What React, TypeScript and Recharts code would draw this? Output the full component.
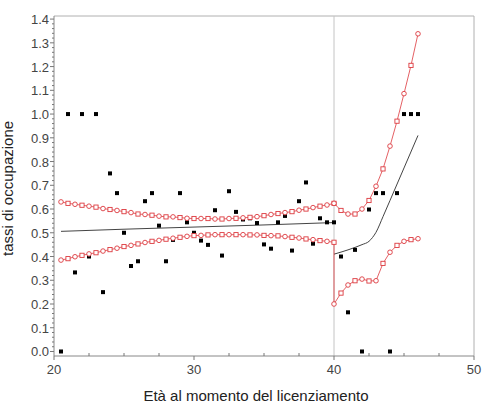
import React from 'react';
import {
  ComposedChart,
  Line,
  Scatter,
  XAxis,
  YAxis,
  ReferenceLine,
} from 'recharts';

// observed rates (età, tasso)
const obsAge = [
  20.5, 21, 21.5, 22, 22.5, 23, 23.5, 24, 24.5, 25, 25.5, 26, 26.5, 27, 27.5, 28,
  28.5, 29, 29.5, 30, 30.5, 31, 31.5, 32, 32.5, 33, 33.5, 34, 34.5, 35, 35.5, 36,
  36.5, 37, 37.5, 38, 38.5, 39, 39.5, 40, 40.5, 41, 41.5, 42, 42.5, 43, 43.5, 44,
  44.5, 45, 45.5, 46,
];
const obsRate = [
  0.0, 1.0, 0.333, 1.0, 0.4, 1.0, 0.25, 0.75, 0.667, 0.5, 0.36, 0.38, 0.633, 0.667, 0.53, 0.38,
  0.47, 0.667, 0.544, 0.5, 0.467, 0.449, 0.595, 0.404, 0.675, 0.588, 0.556, 0.561, 0.541, 0.451, 0.433, 0.544,
  0.571, 0.425, 0.633, 0.712, 0.454, 0.561, 0.544, 0.544, 0.4, 0.165, 0.428, 0.0, 0.598, 0.667, 0.667, 0.0,
  0.667, 1.0, 1.0, 1.0,
];

// fitted line, left and right of the cutoff
const fitLeftAge = [20.5, 25, 30, 35, 40];
const fitLeftVal = [0.506, 0.515, 0.524, 0.533, 0.543];
const fitRightAge = [40, 41, 42, 42.5, 42.75, 43, 43.5, 44, 45, 46];
const fitRightVal = [0.41, 0.428, 0.45, 0.464, 0.48, 0.502, 0.568, 0.636, 0.773, 0.91];

// confidence bands
const bandAge = [
  20.5, 21, 21.5, 22, 22.5, 23, 23.5, 24, 24.5, 25, 25.5, 26, 26.5, 27, 27.5, 28,
  28.5, 29, 29.5, 30, 30.5, 31, 31.5, 32, 32.5, 33, 33.5, 34, 34.5, 35, 35.5, 36,
  36.5, 37, 37.5, 38, 38.5, 39, 39.5, 40,
  40, 40.5, 41, 41.5, 42, 42.5, 43, 43.5, 44, 44.5, 45, 45.5, 46,
];
const upperBand = [
  0.63, 0.624, 0.62, 0.616, 0.612, 0.608, 0.602, 0.598, 0.594, 0.589, 0.585, 0.579, 0.577, 0.574, 0.57, 0.567,
  0.567, 0.564, 0.561, 0.56, 0.56, 0.56, 0.558, 0.558, 0.56, 0.561, 0.563, 0.565, 0.568, 0.572, 0.577, 0.581,
  0.585, 0.589, 0.595, 0.6, 0.606, 0.612, 0.617, 0.624,
  0.624, 0.594, 0.579, 0.579, 0.6, 0.636, 0.696, 0.769, 0.865, 0.97, 1.086, 1.205, 1.338,
];
const lowerBand = [
  0.385, 0.391, 0.399, 0.405, 0.411, 0.416, 0.423, 0.429, 0.435, 0.442, 0.447, 0.453, 0.459, 0.464, 0.468, 0.473,
  0.477, 0.481, 0.485, 0.488, 0.489, 0.491, 0.492, 0.492, 0.492, 0.492, 0.492, 0.491, 0.491, 0.489, 0.488, 0.487,
  0.484, 0.481, 0.478, 0.474, 0.471, 0.467, 0.464, 0.46,
  0.2, 0.246, 0.28, 0.298, 0.305, 0.297, 0.298, 0.371, 0.418, 0.447, 0.464, 0.471, 0.475,
];

const xTicks = [20, 22.5, 25, 27.5, 30, 32.5, 35, 37.5, 40, 42.5, 45, 47.5, 50];
const yTicks = Array.from({ length: 71 }, (_, i) => i / 50);
const cutoff = 40;
const yMin = -0.019;
const yMax = 1.413;

const zip = (xs: number[], ys: number[]) => xs.map((x, i) => ({ x, y: ys[i] }));
const obsData = zip(obsAge, obsRate);
const fitLeft = zip(fitLeftAge, fitLeftVal);
const fitRight = zip(fitRightAge, fitRightVal);
const upperData = zip(bandAge, upperBand);
const lowerData = zip(bandAge, lowerBand);

const RED = '#dd3a3f';
const font = '"Liberation Sans", Arial, sans-serif';

const XTick = ({ x, y, payload }: any) => {
  const major = payload.value % 10 === 0;
  return (
    <g>
      <line x1={x} x2={x} y1={y} y2={major ? y + 4 : y - 3} stroke="#777" />
      {major && (
        <text x={x} y={y + 18} textAnchor="middle" fontSize={13} fill="#444" fontFamily={font}>
          {payload.value}
        </text>
      )}
    </g>
  );
};

const YTick = ({ x, y, payload }: any) => {
  const v = payload.value;
  const major = Math.abs(v * 10 - Math.round(v * 10)) < 1e-6;
  return (
    <g>
      <line x1={x} x2={major ? x - 4 : x - 2} y1={y} y2={y} stroke="#777" />
      {major && (
        <text x={x - 5} y={y + 5} textAnchor="end" fontSize={13} fill="#444" fontFamily={font}>
          {v.toFixed(1)}
        </text>
      )}
    </g>
  );
};

const BandDot = ({ cx, cy, index }: any) => {
  if (cx == null || cy == null) return null;
  if (index % 2 === 0) {
    return <circle key={index} cx={cx} cy={cy} r={2.3} fill="#fff" stroke={RED} strokeWidth={0.9} />;
  }
  return (
    <rect key={index} x={cx - 2.1} y={cy - 2.1} width={4.2} height={4.2} fill="#fff" stroke={RED} strokeWidth={0.9} />
  );
};

const ObsShape = ({ cx, cy }: any) => <rect x={cx - 2} y={cy - 2} width={4} height={4} fill="#000" />;

export default function App() {
  return (
    <div style={{ position: 'absolute', left: 0, top: 0, width: 482, height: 405, background: '#fff' }}>
      <ComposedChart width={482} height={405} margin={{ top: 16, right: 8, bottom: 0, left: 0 }}>
        <XAxis
          dataKey="x"
          type="number"
          domain={[20, 50]}
          ticks={xTicks}
          interval={0}
          tickSize={0}
          tickMargin={0}
          tick={<XTick />}
          height={49}
          axisLine={{ stroke: '#888' }}
          label={{
            value: 'Età al momento del licenziamento',
            position: 'insideBottom',
            offset: 4,
            dx: -8,
            style: { fontSize: 15, fill: '#222', fontFamily: font },
          }}
        />
        <YAxis
          dataKey="y"
          type="number"
          domain={[yMin, yMax]}
          ticks={yTicks}
          interval={0}
          tickSize={0}
          tickMargin={0}
          tick={<YTick />}
          width={54}
          axisLine={{ stroke: '#888' }}
          label={{
            value: 'tassi di occupazione',
            angle: -90,
            position: 'insideLeft',
            offset: 8,
            dy: 70,
            style: { fontSize: 15, fill: '#222', fontFamily: font },
          }}
        />
        <ReferenceLine y={yMax} stroke="#b0b0b0" />
        <ReferenceLine x={50} stroke="#b0b0b0" />
        <ReferenceLine x={cutoff} stroke="#c4c4c4" />
        <Scatter data={obsData} dataKey="y" shape={<ObsShape />} isAnimationActive={false} />
        <Line data={fitLeft} dataKey="y" type="linear" stroke="#444" strokeWidth={1} dot={false} isAnimationActive={false} />
        <Line data={fitRight} dataKey="y" type="monotone" stroke="#444" strokeWidth={1} dot={false} isAnimationActive={false} />
        <Line data={upperData} dataKey="y" type="linear" stroke={RED} strokeWidth={1} strokeOpacity={0.8} dot={<BandDot />} isAnimationActive={false} />
        <Line data={lowerData} dataKey="y" type="linear" stroke={RED} strokeWidth={1} strokeOpacity={0.8} dot={<BandDot />} isAnimationActive={false} />
      </ComposedChart>
    </div>
  );
}
